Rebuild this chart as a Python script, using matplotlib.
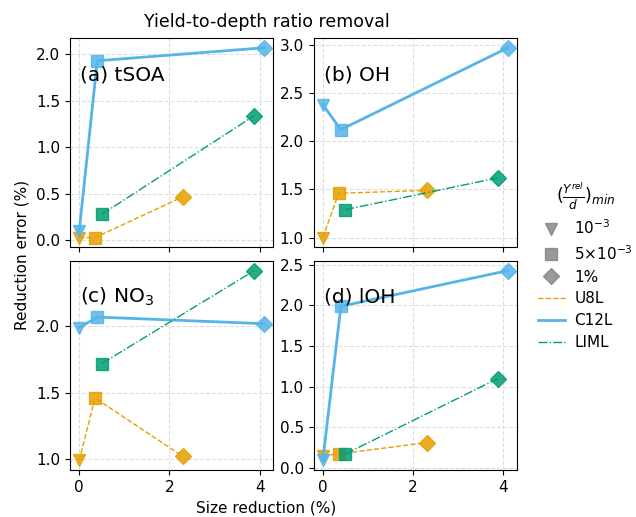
import numpy as np
import matplotlib.pyplot as plt
from matplotlib.lines import Line2D

plt.rcParams['font.size'] = 11

# --- datos ---
panels = ['(a) tSOA', '(b) OH', '(c) NO$_3$', '(d) lOH']
models = ['U8L', 'C12L', 'LIML']

x_u8l = [0.0, 0.35, 2.3]
x_c12l = [0.0, 0.4, 4.1]
x_liml = [0.5, 3.88]

y_u8l = [[0.03, 0.03, 0.47], [1.0, 1.46, 1.49], [0.99, 1.46, 1.02], [0.15, 0.17, 0.31]]
y_c12l = [[0.10, 1.93, 2.07], [2.38, 2.12, 2.97], [1.99, 2.07, 2.02], [0.09, 1.99, 2.43]]
y_liml = [[0.28, 1.34], [1.29, 1.62], [1.72, 2.42], [0.17, 1.10]]

mk_u8l = ['v', 's', 'D']
mk_c12l = ['v', 's', 'D']
mk_liml = ['s', 'D']

col = {'U8L': '#E69F00', 'C12L': '#56B4E9', 'LIML': '#009E73'}
ls = {'U8L': '--', 'C12L': '-', 'LIML': '-.'}
lw = {'U8L': 1.0, 'C12L': 2.0, 'LIML': 1.0}

ratio_labels = ['$10^{-3}$', '$5{\\times}10^{-3}$', '1%']
ratio_markers = ['v', 's', 'D']

fig, axs = plt.subplots(2, 2, figsize=(6.36, 5.17), dpi=100, sharex=True)
fig.subplots_adjust(left=0.110, right=0.813, top=0.926, bottom=0.091,
                    wspace=0.197, hspace=0.067)

series = [('U8L', x_u8l, y_u8l, mk_u8l),
          ('C12L', x_c12l, y_c12l, mk_c12l),
          ('LIML', x_liml, y_liml, mk_liml)]

for i, ax in enumerate(axs.flat):
    for name, xs, ys, mks in series:
        ax.plot(xs, ys[i], color=col[name], linestyle=ls[name], linewidth=lw[name])
        for xv, yv, m in zip(xs, ys[i], mks):
            ax.plot(xv, yv, marker=m, color=col[name], markersize=9 if m != 'D' else 8,
                    alpha=0.85, linestyle='none')
    ax.grid(True, linestyle='--', color='#dddddd', linewidth=0.8)
    ax.text(0.05, 0.8, panels[i], transform=ax.transAxes, fontsize=14.5)
    ax.set_xticks([0, 2, 4])
    ax.tick_params(labelsize=11)

axs[0, 1].set_yticks([1.0, 1.5, 2.0, 2.5, 3.0])
axs[1, 0].set_yticks([1.0, 1.5, 2.0])

fig.text(0.419, 0.957, 'Yield-to-depth ratio removal', ha='center', va='center', fontsize=12.5)
fig.text(0.418, 0.017, 'Size reduction (%)', ha='center', va='center', fontsize=11)
fig.text(0.035, 0.507, 'Reduction error (%)', ha='center', va='center', rotation=90, fontsize=11)

handles = [Line2D([], [], marker=m, color='gray', alpha=0.8, linestyle='none', markersize=8)
           for m in ratio_markers]
handles += [Line2D([], [], color=col[n], linestyle=ls[n], linewidth=lw[n]) for n in models]
leg = fig.legend(handles, ratio_labels + models, loc='center left',
                 bbox_to_anchor=(0.831, 0.487), frameon=False, fontsize=11,
                 handlelength=1.8, handletextpad=0.6, labelspacing=0.45,
                 borderaxespad=0.2,
                 title='$(\\frac{Y^{rel}}{d})_{min}$', title_fontsize=12.5)

fig.savefig('out.png', dpi=100)
